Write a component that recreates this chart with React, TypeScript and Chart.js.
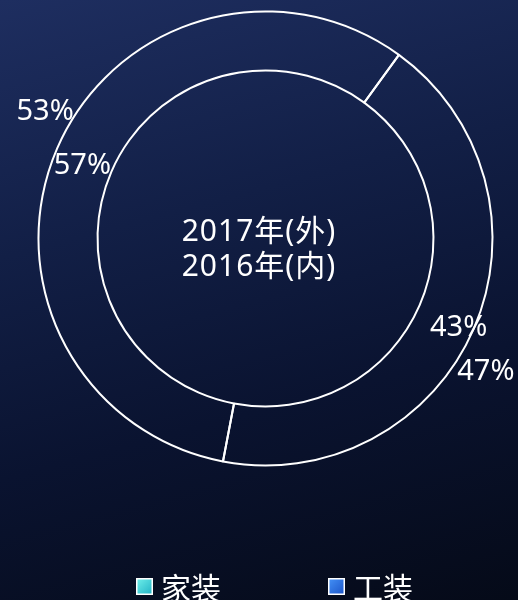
import React, { useEffect, useRef } from "react";
import { Chart, registerables } from "chart.js";

Chart.register(...registerables);

// ---- data ----
const categories = ["家装", "工装"];
const values2017 = [53, 47]; // outer labels
const values2016 = [57, 43]; // inner labels (drawn ring)
const seriesNames = ["2017年(外)", "2016年(内)"];
const legendColors = [
  ["#72f2ec", "#1fb0c4"],
  ["#4593f8", "#1a52c6"],
];
// angle (deg, clockwise from top) where the 家装 segment ends
const START_ANGLE = 36;

function rotationFor(values: number[]) {
  const total = values.reduce((a, b) => a + b, 0);
  return START_ANGLE - (values[0] / total) * 360;
}

const FONT_FAMILY = '"Noto Sans", "Noto Sans CJK SC", sans-serif';

const labelPlugin = {
  id: "pctLabels",
  afterDatasetsDraw(chart: any) {
    const ctx = chart.ctx as CanvasRenderingContext2D;
    ctx.save();
    ctx.fillStyle = "#ffffff";
    ctx.font = `29px ${FONT_FAMILY}`;
    ctx.textAlign = "center";
    ctx.textBaseline = "alphabetic";
    const cfg = [
      { r: 256, dx: 0, dy: 1 },
      { r: 205, dx: 5, dy: 6 },
    ];
    chart.data.datasets.forEach((ds: any, di: number) => {
      const meta = chart.getDatasetMeta(di);
      const total = ds.data.reduce((a: number, b: number) => a + b, 0);
      meta.data.forEach((arc: any, i: number) => {
        const p = arc.getProps(["x", "y", "startAngle", "endAngle"], true);
        const mid = (p.startAngle + p.endAngle) / 2;
        const c = cfg[di];
        const tx = p.x + Math.cos(mid) * c.r + c.dx;
        const ty = p.y + Math.sin(mid) * c.r + c.dy;
        const txt = Math.round((ds.data[i] / total) * 100) + "%";
        ctx.fillText(txt, tx, ty + 10.5);
      });
    });
    ctx.restore();
  },
};

const centerPlugin = {
  id: "centerText",
  afterDatasetsDraw(chart: any) {
    const ctx = chart.ctx as CanvasRenderingContext2D;
    const meta = chart.getDatasetMeta(1);
    const arc = meta.data[0];
    if (!arc) return;
    const { y } = arc.getProps(["x", "y"], true);
    const x = chart.width / 2;
    ctx.save();
    ctx.fillStyle = "#ffffff";
    ctx.font = `30px ${FONT_FAMILY}`;
    (ctx as any).letterSpacing = "1px";
    ctx.textAlign = "center";
    ctx.textBaseline = "alphabetic";
    ctx.fillText(seriesNames[0], x, y + 2);
    ctx.fillText(seriesNames[1], x, y + 37);
    ctx.restore();
  },
};

const legendPlugin = {
  id: "customLegend",
  afterDraw(chart: any) {
    const ctx = chart.ctx as CanvasRenderingContext2D;
    const labels: string[] = chart.data.labels;
    ctx.save();
    ctx.font = `30px "Noto Sans CJK SC", ${FONT_FAMILY}`;
    ctx.textBaseline = "middle";
    ctx.textAlign = "left";
    const box = 17;
    const top = 578;
    let x = 136;
    labels.forEach((lab, i) => {
      const g = ctx.createLinearGradient(x, top, x + box, top + box);
      g.addColorStop(0, legendColors[i][0]);
      g.addColorStop(1, legendColors[i][1]);
      ctx.fillStyle = g;
      ctx.fillRect(x, top, box, box);
      ctx.strokeStyle = "#ffffff";
      ctx.lineWidth = 1.5;
      ctx.strokeRect(x + 0.75, top + 0.75, box - 1.5, box - 1.5);
      ctx.fillStyle = "#ffffff";
      const tx = x + box + 8;
      ctx.fillText(lab, tx, top + box / 2 + 1);
      const w = ctx.measureText(lab).width;
      x = tx + w + 107;
    });
    ctx.restore();
  },
};

export default function App() {
  const ref = useRef<HTMLCanvasElement | null>(null);

  useEffect(() => {
    document.body.style.margin = "0";
    const canvas = ref.current;
    if (!canvas) return;
    const chart = new Chart(canvas, {
      type: "doughnut",
      data: {
        labels: categories,
        datasets: [
          {
            label: "2017",
            data: values2017,
            weight: 0,
            rotation: rotationFor(values2017),
            backgroundColor: "rgba(0,0,0,0)",
            borderColor: "rgba(0,0,0,0)",
            borderWidth: 0,
          } as any,
          {
            label: "2016",
            data: values2016,
            weight: 1,
            rotation: rotationFor(values2016),
            backgroundColor: "rgba(0,0,0,0)",
            borderColor: "#ffffff",
            borderWidth: 2,
          } as any,
        ],
      },
      options: {
        responsive: false,
        animation: false,
        events: [],
        radius: 227,
        cutout: "74%",
        layout: { padding: { left: 13, right: 0, top: 0, bottom: 123 } },
        plugins: {
          legend: { display: false },
          tooltip: { enabled: false },
        },
      } as any,
      plugins: [labelPlugin, centerPlugin, legendPlugin],
    });
    return () => chart.destroy();
  }, []);

  return (
    <div
      style={{
        position: "absolute",
        left: 0,
        top: 0,
        width: 518,
        height: 600,
        overflow: "hidden",
        background:
          "linear-gradient(165deg, #1e2e60 0%, #121f46 35%, #0a1330 65%, #050a18 100%)",
      }}
    >
      <canvas ref={ref} width={518} height={600} style={{ display: "block" }} />
    </div>
  );
}
